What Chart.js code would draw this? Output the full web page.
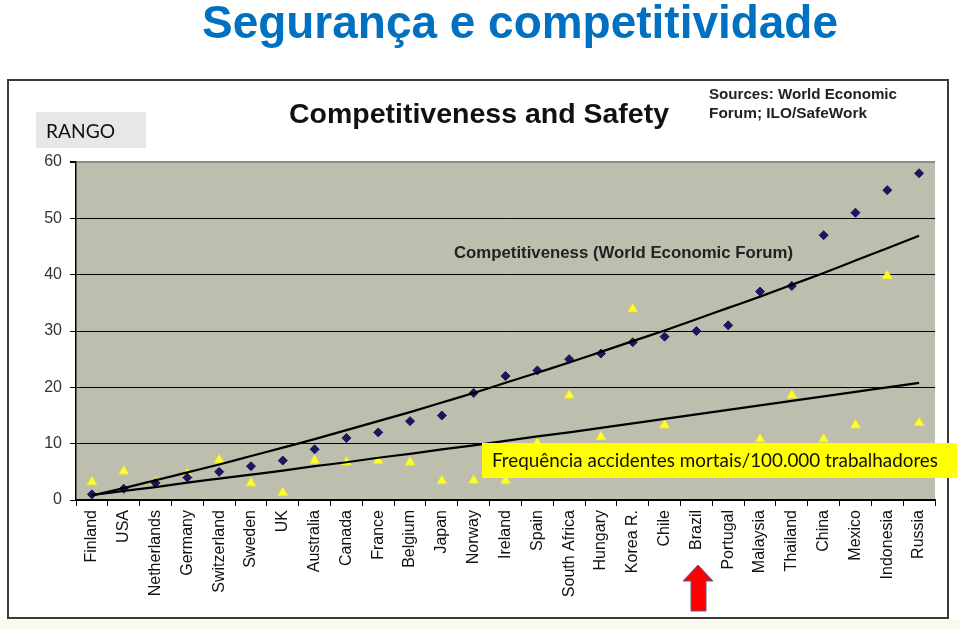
<!DOCTYPE html>
<html><head><meta charset="utf-8">
<script src="https://cdn.jsdelivr.net/npm/chart.js@4/dist/chart.umd.min.js"></script>
<style>
html,body{margin:0;padding:0;background:#fff;width:960px;height:629px;overflow:hidden;}
#frame{position:absolute;left:7px;top:79px;width:938px;height:536px;border:2px solid #3a3a3a;background:#fff;}
#cream{position:absolute;left:0;top:620px;width:960px;height:9px;background:#FBF9EF;}
#wrap{position:absolute;left:0;top:0;width:960px;height:629px;}
#ov{position:absolute;left:0;top:0;}
</style></head><body>
<div id="frame"></div><div id="cream"></div>
<div id="wrap"><canvas id="c" width="960" height="629"></canvas></div>
<svg id="ov" width="960" height="629" xmlns="http://www.w3.org/2000/svg">
  <text x="520" y="38" text-anchor="middle" textLength="636" lengthAdjust="spacingAndGlyphs" font-family="Liberation Sans, Arial, sans-serif" font-weight="bold" font-size="46" fill="#0070C0">Segurança e competitividade</text>
  <text x="479" y="123" text-anchor="middle" textLength="380" lengthAdjust="spacingAndGlyphs" font-family="Liberation Sans, Arial, sans-serif" font-weight="bold" font-size="28" fill="#111">Competitiveness and Safety</text>
  <text x="709" y="98.5" textLength="188" lengthAdjust="spacingAndGlyphs" font-family="Liberation Sans, Arial, sans-serif" font-weight="bold" font-size="15" fill="#222">Sources: World Economic</text>
  <text x="709" y="118" textLength="158" lengthAdjust="spacingAndGlyphs" font-family="Liberation Sans, Arial, sans-serif" font-weight="bold" font-size="15" fill="#222">Forum; ILO/SafeWork</text>
  <rect x="36" y="112" width="110" height="36" fill="#E7E7E7"/>
  <text x="46" y="138" textLength="69" lengthAdjust="spacingAndGlyphs" font-family="Lato, 'Open Sans', sans-serif" font-size="20" fill="#111">RANGO</text>
</svg>
<svg id="ov2" width="960" height="629" xmlns="http://www.w3.org/2000/svg" style="position:absolute;left:0;top:0;">
  <text x="454" y="258" textLength="339" lengthAdjust="spacingAndGlyphs" font-family="Liberation Sans, Arial, sans-serif" font-weight="bold" font-size="16.5" fill="#222">Competitiveness (World Economic Forum)</text>
  <rect x="482" y="443" width="475" height="35" fill="#FFFF00"/>
  <text x="492" y="467" textLength="446" lengthAdjust="spacingAndGlyphs" font-family="Lato, 'Open Sans', sans-serif" font-size="18.5" fill="#111">Frequência accidentes mortais/100.000 trabalhadores</text>
  <polygon points="698,565 713,581 706,581 706,611 691,611 691,581 683,581" fill="#FF0000" stroke="#52618F" stroke-width="1"/>
</svg>
<script>
const countries = ['Finland','USA','Netherlands','Germany','Switzerland','Sweden','UK','Australia','Canada','France','Belgium','Japan','Norway','Ireland','Spain','South Africa','Hungary','Korea R.','Chile','Brazil','Portugal','Malaysia','Thailand','China','Mexico','Indonesia','Russia'];
const competitiveness = [1,2,3,4,5,6,7,9,11,12,14,15,19,22,23,25,26,28,29,30,31,37,38,47,51,55,58];
const fatalAccidents = [3.2,5.1,3.2,4.7,7.1,3.0,1.3,7.0,6.7,7.0,6.7,3.4,3.5,3.4,10.1,18.6,11.2,33.9,13.3,8.0,6.0,10.8,18.6,10.8,13.3,39.8,13.7];
const competitivenessTrend = [0.8,2.1,3.5,4.9,6.3,7.8,9.3,10.8,12.4,14.0,15.6,17.3,19.0,20.8,22.6,24.4,26.3,28.2,30.1,32.1,34.1,36.1,38.2,40.3,42.5,44.7,46.9];
const fatalTrend = [0.9,1.6,2.3,3.1,3.8,4.5,5.2,6.0,6.7,7.5,8.2,9.0,9.7,10.5,11.3,12.0,12.8,13.6,14.4,15.2,16.0,16.8,17.6,18.4,19.2,20.0,20.8];
const yMin = 0, yMax = 60, yStep = 10;

const bgPlugin = {
  id:'plotBg',
  beforeDraw(chart){
    const {ctx, chartArea:a} = chart;
    ctx.save();
    ctx.fillStyle = '#BEBEAE';
    ctx.fillRect(a.left, a.top, a.right - a.left, a.bottom - a.top);
    ctx.restore();
  }
};

new Chart(document.getElementById('c'), {
  type:'line',
  data:{
    labels: countries,
    datasets:[
      {label:'Competitiveness trend', data: competitivenessTrend, borderColor:'#000', borderWidth:2.2, pointRadius:0, tension:0.4, cubicInterpolationMode:'monotone', fill:false, order:0},
      {label:'Fatal trend', data: fatalTrend, borderColor:'#000', borderWidth:2.2, pointRadius:0, tension:0.4, cubicInterpolationMode:'monotone', fill:false, order:0},
      {label:'Competitiveness', data: competitiveness, showLine:false, pointStyle:'rectRot', pointRadius:4.5, pointBackgroundColor:'#1C1660', pointBorderColor:'#1C1660', pointBorderWidth:1, order:1},
      {label:'Fatal accidents', data: fatalAccidents, showLine:false, pointStyle:'triangle', pointRadius:5.5, pointBackgroundColor:'#FFFF30', pointBorderColor:'#EEEE20', pointBorderWidth:1, order:2}
    ]
  },
  options:{
    responsive:false, animation:false, devicePixelRatio:1,
    layout:{padding:{top:162, right:25, bottom:0, left:0}},
    plugins:{legend:{display:false}, tooltip:{enabled:false}, title:{display:false}},
    scales:{
      x:{
        offset:true,
        grid:{offset:true, drawOnChartArea:false, drawTicks:true, tickLength:6, color:'#000', lineWidth:1},
        border:{color:'#000', width:1.5},
        ticks:{autoSkip:false, maxRotation:90, minRotation:90, padding:4, color:'#111', font:{family:'Liberation Sans, Arial, sans-serif', size:16}},
        afterFit(s){ s.height = 129; }
      },
      y:{
        min:yMin, max:yMax,
        ticks:{stepSize:yStep, padding:8, color:'#333', font:{family:'Liberation Sans, Arial, sans-serif', size:16}},
        grid:{
          color:(c)=> (c.tick && c.tick.value === yMax) ? '#8c8c84' : '#000',
          lineWidth:(c)=> (c.tick && c.tick.value === yMax) ? 2 : 1,
          tickLength:6, tickColor:'#000'
        },
        border:{color:'#000', width:1.5},
        afterFit(s){ s.width = 76; }
      }
    }
  },
  plugins:[bgPlugin]
});
</script>
</body></html>
